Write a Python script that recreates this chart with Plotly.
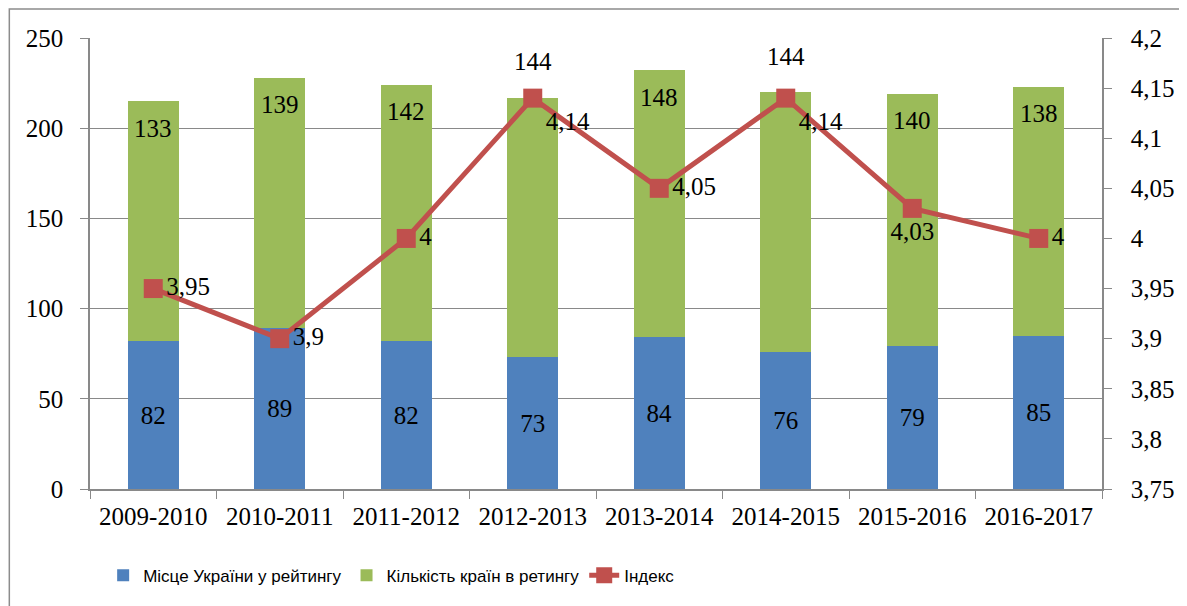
import plotly.graph_objects as go

# Données
years = ['2009-2010', '2010-2011', '2011-2012', '2012-2013',
         '2013-2014', '2014-2015', '2015-2016', '2016-2017']
place = [82, 89, 82, 73, 84, 76, 79, 85]            # Місце України у рейтингу
countries = [133, 139, 142, 144, 148, 144, 140, 138]  # Кількість країн в ретингу
index_val = [3.95, 3.9, 4.0, 4.14, 4.05, 4.14, 4.03, 4.0]  # Індекс
index_text = ['3,95', '3,9', '4', '4,14', '4,05', '4,14', '4,03', '4']
y2_ticks = [3.75, 3.8, 3.85, 3.9, 3.95, 4.0, 4.05, 4.1, 4.15, 4.2]
y2_text = ['3,75', '3,8', '3,85', '3,9', '3,95', '4', '4,05', '4,1', '4,15', '4,2']

BLUE = '#4F81BD'
GREEN = '#9BBB59'
RED = '#C0504D'
GRID = '#898989'
SERIF = 'Liberation Serif'
NARROW = 'Liberation Sans Narrow, Arial Narrow, Liberation Sans, sans-serif'
FS = 25

fig = go.Figure()
fig.add_trace(go.Bar(
    x=years, y=place, name='Місце України у рейтингу',
    marker=dict(color=BLUE, line=dict(width=0)),
    text=[str(v) for v in place], textposition='inside', insidetextanchor='middle',
    textfont=dict(family=SERIF, size=FS, color='black'),
))
fig.add_trace(go.Bar(
    x=years, y=countries, name='Кількість країн в ретингу',
    marker=dict(color=GREEN, line=dict(width=0)),
    textposition='none',
))
fig.add_trace(go.Scatter(
    x=years, y=index_val, name='Індекс', yaxis='y2',
    mode='lines+markers+text',
    line=dict(color=RED, width=5),
    marker=dict(symbol='square', size=19, color=RED),
    text=index_text,
    textposition=['middle right', 'middle right', 'middle right', 'bottom right',
                  'middle right', 'bottom right', 'bottom center', 'middle right'],
    textfont=dict(family=SERIF, size=FS, color='black'),
    cliponaxis=False,
))

# Étiquettes de la série verte (près du haut, ou au-dessus pour 144)
for i, (p, c) in enumerate(zip(place, countries)):
    total = p + c
    above = c == 144
    fig.add_annotation(
        x=years[i], y=total, text=str(c), showarrow=False,
        yanchor='middle', yshift=36 if above else -27,
        font=dict(family=SERIF, size=FS, color='black'),
    )

# Cadre extérieur (bord de la figure)
fig.add_shape(type='rect', xref='paper', yref='paper',
              x0=-81 / 1016, x1=1.2, y0=-0.4, y1=1 + 29 / 452,
              line=dict(color='#8C8C8C', width=1.5), layer='below')

fig.update_layout(
    width=1179, height=598,
    margin=dict(l=82, r=81, t=30, b=116),
    paper_bgcolor='white', plot_bgcolor='white',
    barmode='stack', bargap=0.6,
    showlegend=True,
    legend=dict(orientation='h', x=0.013, xanchor='left', y=-0.1925, yanchor='middle',
                font=dict(family=NARROW, size=17, color='black'),
                traceorder='normal'),
    xaxis=dict(
        showgrid=False, showline=True, linecolor=GRID, linewidth=1.5,
        ticks='outside', tickson='boundaries', ticklen=8, tickcolor=GRID,
        tickfont=dict(family=SERIF, size=FS, color='black'), ticklabelstandoff=4,
    ),
    yaxis=dict(
        range=[0, 250], dtick=50, showgrid=True, gridcolor=GRID, gridwidth=1.3,
        showline=True, linecolor=GRID, linewidth=1.5, zeroline=False,
        ticks='outside', ticklen=8, tickcolor=GRID,
        tickfont=dict(family=SERIF, size=FS, color='black'), ticklabelstandoff=12,
    ),
    yaxis2=dict(
        overlaying='y', side='right', range=[3.75, 4.2],
        tickvals=y2_ticks, ticktext=y2_text, showgrid=False,
        showline=True, linecolor=GRID, linewidth=1.5, zeroline=False,
        ticks='outside', ticklen=8, tickcolor=GRID,
        tickfont=dict(family=SERIF, size=FS, color='black'), ticklabelstandoff=14,
    ),
)

fig.write_html('out.html')
